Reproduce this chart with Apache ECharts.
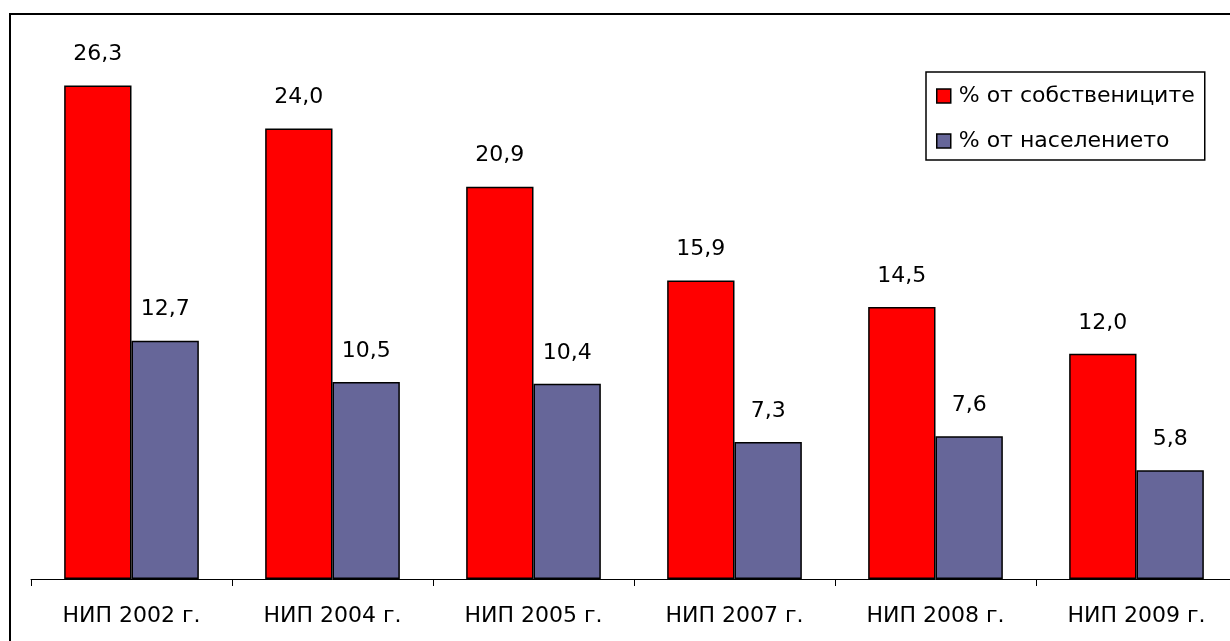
<!DOCTYPE html>
<html>
<head>
<meta charset="utf-8">
<script src="https://cdn.jsdelivr.net/npm/echarts@6/dist/echarts.min.js"></script>
<style>
html,body{margin:0;padding:0;background:#fff;overflow:hidden;width:1230px;height:641px;}
#chart{width:1237px;height:641px;}
</style>
</head>
<body>
<div id="chart"></div>
<script>
const categories = ['НИП 2002 г.', 'НИП 2004 г.', 'НИП 2005 г.', 'НИП 2007 г.', 'НИП 2008 г.', 'НИП 2009 г.'];
const ownersName = '% от собствениците';
const populationName = '% от населението';
const owners = [26.3, 24.0, 20.9, 15.9, 14.5, 12.0];
const population = [12.7, 10.5, 10.4, 7.3, 7.6, 5.8];

const FONT = 'DejaVu Sans';
const fmt = p => p.value.toFixed(1).replace('.', ',');

const chart = echarts.init(document.getElementById('chart'), null, {renderer: 'canvas'});
chart.setOption({
  animation: false,
  backgroundColor: '#fff',
  textStyle: {fontFamily: FONT},
  graphic: [{
    type: 'rect',
    shape: {x: 10, y: 14, width: 1300, height: 700},
    style: {fill: 'none', stroke: '#000', lineWidth: 2},
    silent: true,
    z: 100
  }],
  grid: {left: 31, top: 16, right: 0, bottom: 62, containLabel: false},
  legend: {
    orient: 'vertical',
    left: 926,
    top: 72,
    padding: [13, 10, 8, 10],
    borderColor: '#000',
    borderWidth: 1.5,
    itemWidth: 14,
    itemHeight: 14,
    itemGap: 23,
    icon: 'rect',
    itemStyle: {borderColor: '#000', borderWidth: 1.5},
    textStyle: {fontFamily: FONT, fontSize: 22, color: '#000', padding: [0, 0, 0, 3]},
    data: [ownersName, populationName]
  },
  xAxis: {
    type: 'category',
    data: categories,
    boundaryGap: true,
    axisLine: {lineStyle: {color: '#000', width: 1}},
    axisTick: {show: true, length: 7, lineStyle: {color: '#000'}},
    axisLabel: {fontFamily: FONT, fontSize: 22, color: '#000', margin: 26}
  },
  yAxis: {
    type: 'value',
    min: 0,
    max: 30,
    show: false,
    splitLine: {show: false}
  },
  series: [{
    name: ownersName,
    type: 'bar',
    data: owners,
    barGap: '0%',
    barCategoryGap: '33%',
    itemStyle: {color: '#FF0000', borderColor: '#000', borderWidth: 1.5},
    label: {show: true, position: 'top', distance: 20, formatter: fmt, fontFamily: FONT, fontSize: 22, color: '#000'}
  }, {
    name: populationName,
    type: 'bar',
    data: population,
    itemStyle: {color: '#666699', borderColor: '#000', borderWidth: 1.5},
    label: {show: true, position: 'top', distance: 20, formatter: fmt, fontFamily: FONT, fontSize: 22, color: '#000'}
  }]
});
</script>
</body>
</html>
